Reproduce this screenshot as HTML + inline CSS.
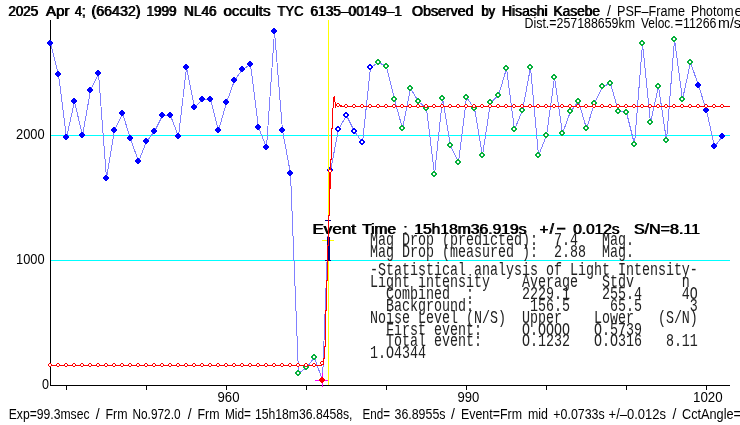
<!DOCTYPE html>
<html><head><meta charset="utf-8"><title>Light curve</title>
<style>
html,body{margin:0;padding:0;background:#fff;overflow:hidden}
svg{display:block;will-change:transform}
text{font-family:"Liberation Sans",sans-serif;fill:#000}
.b{font-weight:bold}
.m{font-family:"Liberation Mono",monospace;white-space:pre;fill:#222}
</style></head><body>
<svg width="740" height="425" viewBox="0 0 740 425">
<rect x="0" y="0" width="740" height="425" fill="#ffffff"/>
<g shape-rendering="crispEdges">
<rect x="51" y="135" width="679" height="1" fill="#00ffff"/>
<rect x="51" y="260" width="679" height="1" fill="#00ffff"/>
<rect x="50" y="20" width="1" height="366" fill="#000"/>
<rect x="50" y="385" width="680" height="1" fill="#000"/>
<rect x="66" y="386" width="1" height="4" fill="#000"/>
<rect x="146" y="386" width="1" height="4" fill="#000"/>
<rect x="226" y="386" width="1" height="4" fill="#000"/>
<rect x="306" y="386" width="1" height="4" fill="#000"/>
<rect x="386" y="386" width="1" height="4" fill="#000"/>
<rect x="466" y="386" width="1" height="4" fill="#000"/>
<rect x="546" y="386" width="1" height="4" fill="#000"/>
<rect x="626" y="386" width="1" height="4" fill="#000"/>
<rect x="706" y="386" width="1" height="4" fill="#000"/>
</g>
<text x="8.00" y="16" font-size="14" textLength="29.7" lengthAdjust="spacingAndGlyphs">2025</text>
<text x="8.90" y="16" font-size="14" textLength="29.7" lengthAdjust="spacingAndGlyphs">2025</text>
<text x="45.60" y="16" font-size="14" textLength="23.5" lengthAdjust="spacingAndGlyphs">Apr</text>
<text x="46.50" y="16" font-size="14" textLength="23.5" lengthAdjust="spacingAndGlyphs">Apr</text>
<text x="74.40" y="16" font-size="14" textLength="10.7" lengthAdjust="spacingAndGlyphs">4;</text>
<text x="75.30" y="16" font-size="14" textLength="10.7" lengthAdjust="spacingAndGlyphs">4;</text>
<text x="91.00" y="16" font-size="14" textLength="49.1" lengthAdjust="spacingAndGlyphs">(66432)</text>
<text x="91.90" y="16" font-size="14" textLength="49.1" lengthAdjust="spacingAndGlyphs">(66432)</text>
<text x="146.00" y="16" font-size="14" textLength="30.1" lengthAdjust="spacingAndGlyphs">1999</text>
<text x="146.90" y="16" font-size="14" textLength="30.1" lengthAdjust="spacingAndGlyphs">1999</text>
<text x="183.60" y="16" font-size="14" textLength="32.5" lengthAdjust="spacingAndGlyphs">NL46</text>
<text x="184.50" y="16" font-size="14" textLength="32.5" lengthAdjust="spacingAndGlyphs">NL46</text>
<text x="223.00" y="16" font-size="14" textLength="47.1" lengthAdjust="spacingAndGlyphs">occults</text>
<text x="223.90" y="16" font-size="14" textLength="47.1" lengthAdjust="spacingAndGlyphs">occults</text>
<text x="277.00" y="16" font-size="14" textLength="26.1" lengthAdjust="spacingAndGlyphs">TYC</text>
<text x="277.90" y="16" font-size="14" textLength="26.1" lengthAdjust="spacingAndGlyphs">TYC</text>
<text x="310.00" y="16" font-size="14" textLength="91.5" lengthAdjust="spacingAndGlyphs">6135–00149–1</text>
<text x="310.90" y="16" font-size="14" textLength="91.5" lengthAdjust="spacingAndGlyphs">6135–00149–1</text>
<text x="411.60" y="16" font-size="14" textLength="61.5" lengthAdjust="spacingAndGlyphs">Observed</text>
<text x="412.50" y="16" font-size="14" textLength="61.5" lengthAdjust="spacingAndGlyphs">Observed</text>
<text x="481.00" y="16" font-size="14" textLength="13.7" lengthAdjust="spacingAndGlyphs">by</text>
<text x="481.90" y="16" font-size="14" textLength="13.7" lengthAdjust="spacingAndGlyphs">by</text>
<text x="501.60" y="16" font-size="14" textLength="45.5" lengthAdjust="spacingAndGlyphs">Hisashi</text>
<text x="502.50" y="16" font-size="14" textLength="45.5" lengthAdjust="spacingAndGlyphs">Hisashi</text>
<text x="553.00" y="16" font-size="14" textLength="46.6" lengthAdjust="spacingAndGlyphs">Kasebe</text>
<text x="553.90" y="16" font-size="14" textLength="46.6" lengthAdjust="spacingAndGlyphs">Kasebe</text>
<text x="609.00" y="16" font-size="14" text-anchor="middle">/</text>
<text x="617" y="16" font-size="14" textLength="68.0" lengthAdjust="spacingAndGlyphs">PSF–Frame</text>
<text x="691" y="16" font-size="14" textLength="42.6" lengthAdjust="spacingAndGlyphs">Photom</text>
<text x="734.6" y="16" font-size="14">etry</text>
<text x="524.5" y="27.5" font-size="14" textLength="110.5" lengthAdjust="spacingAndGlyphs">Dist.=257188659km</text>
<text x="641" y="27.5" font-size="14" textLength="32.6" lengthAdjust="spacingAndGlyphs">Veloc.</text>
<text x="678.80" y="27.5" font-size="14" text-anchor="middle">=</text>
<text x="683" y="27.5" font-size="14" textLength="33.4" lengthAdjust="spacingAndGlyphs">11266</text>
<text x="718" y="27.5" font-size="14" textLength="23.0" lengthAdjust="spacingAndGlyphs">m/s</text>
<text x="16" y="139" font-size="14" textLength="28.6" lengthAdjust="spacingAndGlyphs">2000</text>
<text x="16" y="264" font-size="14" textLength="28.6" lengthAdjust="spacingAndGlyphs">1000</text>
<text x="42" y="389" font-size="14" textLength="7.0" lengthAdjust="spacingAndGlyphs">0</text>
<text x="217.5" y="401.5" font-size="14" textLength="22.0" lengthAdjust="spacingAndGlyphs">960</text>
<text x="457.5" y="401.5" font-size="14" textLength="21.8" lengthAdjust="spacingAndGlyphs">990</text>
<text x="693" y="401.5" font-size="14" textLength="29.7" lengthAdjust="spacingAndGlyphs">1020</text>
<text x="8.75" y="418.5" font-size="14" textLength="80.8" lengthAdjust="spacingAndGlyphs">Exp=99.3msec</text>
<text x="97.75" y="418.5" font-size="14" text-anchor="middle">/</text>
<text x="105.5" y="418.5" font-size="14" textLength="22.0" lengthAdjust="spacingAndGlyphs">Frm</text>
<text x="132.5" y="418.5" font-size="14" textLength="48.0" lengthAdjust="spacingAndGlyphs">No.972.0</text>
<text x="189.75" y="418.5" font-size="14" text-anchor="middle">/</text>
<text x="197.5" y="418.5" font-size="14" textLength="22.0" lengthAdjust="spacingAndGlyphs">Frm</text>
<text x="225" y="418.5" font-size="14" textLength="26.0" lengthAdjust="spacingAndGlyphs">Mid=</text>
<text x="255" y="418.5" font-size="14" textLength="97.5" lengthAdjust="spacingAndGlyphs">15h18m36.8458s,</text>
<text x="362.5" y="418.5" font-size="14" textLength="27.5" lengthAdjust="spacingAndGlyphs">End=</text>
<text x="394.5" y="418.5" font-size="14" textLength="51.0" lengthAdjust="spacingAndGlyphs">36.8955s</text>
<text x="453.00" y="418.5" font-size="14" text-anchor="middle">/</text>
<text x="461" y="418.5" font-size="14" textLength="61.0" lengthAdjust="spacingAndGlyphs">Event=Frm</text>
<text x="528" y="418.5" font-size="14" textLength="20.0" lengthAdjust="spacingAndGlyphs">mid</text>
<text x="553.3" y="418.5" font-size="14" textLength="51.4" lengthAdjust="spacingAndGlyphs">+0.0733s</text>
<text x="608.6" y="418.5" font-size="14" textLength="57.4" lengthAdjust="spacingAndGlyphs">+/–0.012s</text>
<text x="674.55" y="418.5" font-size="14" text-anchor="middle">/</text>
<text x="682" y="418.5" font-size="14" textLength="59.0" lengthAdjust="spacingAndGlyphs">CctAngle=</text>
<text x="312.00" y="233.5" font-size="15" textLength="43.6" lengthAdjust="spacingAndGlyphs">Event</text>
<text x="312.90" y="233.5" font-size="15" textLength="43.6" lengthAdjust="spacingAndGlyphs">Event</text>
<text x="361.80" y="233.5" font-size="15" textLength="33.8" lengthAdjust="spacingAndGlyphs">Time</text>
<text x="362.70" y="233.5" font-size="15" textLength="33.8" lengthAdjust="spacingAndGlyphs">Time</text>
<text x="405.05" y="233.5" font-size="15" text-anchor="middle">:</text>
<text x="405.95" y="233.5" font-size="15" text-anchor="middle">:</text>
<text x="413.80" y="233.5" font-size="15" textLength="112.3" lengthAdjust="spacingAndGlyphs">15h18m36.919s</text>
<text x="414.70" y="233.5" font-size="15" textLength="112.3" lengthAdjust="spacingAndGlyphs">15h18m36.919s</text>
<text x="543.60" y="233.5" font-size="15" text-anchor="middle">+</text>
<text x="544.50" y="233.5" font-size="15" text-anchor="middle">+</text>
<text x="551.35" y="233.5" font-size="15" text-anchor="middle">/</text>
<text x="552.25" y="233.5" font-size="15" text-anchor="middle">/</text>
<text x="572.80" y="233.5" font-size="15" textLength="46.3" lengthAdjust="spacingAndGlyphs">0.012s</text>
<text x="573.70" y="233.5" font-size="15" textLength="46.3" lengthAdjust="spacingAndGlyphs">0.012s</text>
<text x="633.50" y="233.5" font-size="15" textLength="66.1" lengthAdjust="spacingAndGlyphs">S/N=8.11</text>
<text x="634.40" y="233.5" font-size="15" textLength="66.1" lengthAdjust="spacingAndGlyphs">S/N=8.11</text>
<rect x="557" y="227.7" width="8.4" height="1.9" fill="#000"/>
<text class="m" xml:space="preserve" transform="translate(370,245.3) scale(1,1.36)" x="0" y="0" font-size="13.333">Mag Drop (predicted):  7.4   Mag.</text>
<text class="m" xml:space="preserve" transform="translate(370,257.3) scale(1,1.36)" x="0" y="0" font-size="13.333">Mag Drop (measured ):  2.88  Mag.</text>
<text class="m" xml:space="preserve" transform="translate(370,275.0) scale(1,1.36)" x="0" y="0" font-size="13.333">-Statistical analysis of Light Intensity-</text>
<text class="m" xml:space="preserve" transform="translate(370,286.9) scale(1,1.36)" x="0" y="0" font-size="13.333">Light intensity    Average   Stdv      n</text>
<text class="m" xml:space="preserve" transform="translate(370,298.8) scale(1,1.36)" x="0" y="0" font-size="13.333">  Combined  :      2229.1    255.4     4O</text>
<text class="m" xml:space="preserve" transform="translate(370,310.7) scale(1,1.36)" x="0" y="0" font-size="13.333">  Background:       156.5     65.5      3</text>
<text class="m" xml:space="preserve" transform="translate(370,322.6) scale(1,1.36)" x="0" y="0" font-size="13.333">Noise Level (N/S)  Upper    Lower   (S/N)</text>
<text class="m" xml:space="preserve" transform="translate(370,334.5) scale(1,1.36)" x="0" y="0" font-size="13.333">  First event:     O.OOOO   O.5739</text>
<text class="m" xml:space="preserve" transform="translate(370,346.4) scale(1,1.36)" x="0" y="0" font-size="13.333">  Total event:     O.1232   O.O316   8.11</text>
<text class="m" xml:space="preserve" transform="translate(370,358.3) scale(1,1.36)" x="0" y="0" font-size="13.333">1.O4344</text>
<polyline points="50.5,43.5 58.5,74.5 66.5,137.5 74.5,101.5 82.5,135.5 90.5,90.5 98.5,73.5 106.5,178.5 114.5,130.5 122.5,113.5 130.5,138.5 138.5,161.5 146.5,141.5 154.5,131.5 162.5,115.5 170.5,115.5 178.5,136.5 186.5,67.5 194.5,107.5 202.5,99.5 210.5,99.5 218.5,130.5 226.5,102.5 234.5,80.5 242.5,69.5 250.5,64.5 258.5,127.5 266.5,147.5 274.5,31.5 282.5,130.5 290.5,173.5 298.5,373.5 306.5,367.5 314.5,357.5 322.5,380.5 330.5,170.5 338.5,129.5 346.5,115.5 354.5,131.5 362.5,142.5 370.5,67.5 378.5,62.5 386.5,66.5 394.5,99.5 402.5,128.5 410.5,88.5 418.5,101.5 426.5,108.5 434.5,174.5 442.5,98.5 450.5,145.5 458.5,162.5 466.5,97.5 474.5,108.5 482.5,155.5 490.5,102.5 498.5,95.5 506.5,68.5 514.5,129.5 522.5,110.5 530.5,67.5 538.5,155.5 546.5,135.5 554.5,77.5 562.5,133.5 570.5,111.5 578.5,101.5 586.5,128.5 594.5,103.5 602.5,86.5 610.5,83.5 618.5,111.5 626.5,112.5 634.5,144.5 642.5,43.5 650.5,122.5 658.5,86.5 666.5,140.5 674.5,39.5 682.5,99.5 690.5,62.5 698.5,85.5 706.5,110.5 714.5,146.5 722.5,136.5" fill="none" stroke="#8080ff" stroke-width="1" shape-rendering="crispEdges"/>
<g shape-rendering="crispEdges">
<path d="M49,40h2v1h1v1h1v2h-1v1h-1v1h-2v-1h-1v-1h-1v-2h1v-1h1z" fill="#0000ff"/>
<path d="M57,71h2v1h1v1h1v2h-1v1h-1v1h-2v-1h-1v-1h-1v-2h1v-1h1z" fill="#0000ff"/>
<path d="M65,134h2v1h1v1h1v2h-1v1h-1v1h-2v-1h-1v-1h-1v-2h1v-1h1z" fill="#0000ff"/>
<path d="M73,98h2v1h1v1h1v2h-1v1h-1v1h-2v-1h-1v-1h-1v-2h1v-1h1z" fill="#0000ff"/>
<path d="M81,132h2v1h1v1h1v2h-1v1h-1v1h-2v-1h-1v-1h-1v-2h1v-1h1z" fill="#0000ff"/>
<path d="M89,87h2v1h1v1h1v2h-1v1h-1v1h-2v-1h-1v-1h-1v-2h1v-1h1z" fill="#0000ff"/>
<path d="M97,70h2v1h1v1h1v2h-1v1h-1v1h-2v-1h-1v-1h-1v-2h1v-1h1z" fill="#0000ff"/>
<path d="M105,175h2v1h1v1h1v2h-1v1h-1v1h-2v-1h-1v-1h-1v-2h1v-1h1z" fill="#0000ff"/>
<path d="M113,127h2v1h1v1h1v2h-1v1h-1v1h-2v-1h-1v-1h-1v-2h1v-1h1z" fill="#0000ff"/>
<path d="M121,110h2v1h1v1h1v2h-1v1h-1v1h-2v-1h-1v-1h-1v-2h1v-1h1z" fill="#0000ff"/>
<path d="M129,135h2v1h1v1h1v2h-1v1h-1v1h-2v-1h-1v-1h-1v-2h1v-1h1z" fill="#0000ff"/>
<path d="M137,158h2v1h1v1h1v2h-1v1h-1v1h-2v-1h-1v-1h-1v-2h1v-1h1z" fill="#0000ff"/>
<path d="M145,138h2v1h1v1h1v2h-1v1h-1v1h-2v-1h-1v-1h-1v-2h1v-1h1z" fill="#0000ff"/>
<path d="M153,128h2v1h1v1h1v2h-1v1h-1v1h-2v-1h-1v-1h-1v-2h1v-1h1z" fill="#0000ff"/>
<path d="M161,112h2v1h1v1h1v2h-1v1h-1v1h-2v-1h-1v-1h-1v-2h1v-1h1z" fill="#0000ff"/>
<path d="M169,112h2v1h1v1h1v2h-1v1h-1v1h-2v-1h-1v-1h-1v-2h1v-1h1z" fill="#0000ff"/>
<path d="M177,133h2v1h1v1h1v2h-1v1h-1v1h-2v-1h-1v-1h-1v-2h1v-1h1z" fill="#0000ff"/>
<path d="M185,64h2v1h1v1h1v2h-1v1h-1v1h-2v-1h-1v-1h-1v-2h1v-1h1z" fill="#0000ff"/>
<path d="M193,104h2v1h1v1h1v2h-1v1h-1v1h-2v-1h-1v-1h-1v-2h1v-1h1z" fill="#0000ff"/>
<path d="M201,96h2v1h1v1h1v2h-1v1h-1v1h-2v-1h-1v-1h-1v-2h1v-1h1z" fill="#0000ff"/>
<path d="M209,96h2v1h1v1h1v2h-1v1h-1v1h-2v-1h-1v-1h-1v-2h1v-1h1z" fill="#0000ff"/>
<path d="M217,127h2v1h1v1h1v2h-1v1h-1v1h-2v-1h-1v-1h-1v-2h1v-1h1z" fill="#0000ff"/>
<path d="M225,99h2v1h1v1h1v2h-1v1h-1v1h-2v-1h-1v-1h-1v-2h1v-1h1z" fill="#0000ff"/>
<path d="M233,77h2v1h1v1h1v2h-1v1h-1v1h-2v-1h-1v-1h-1v-2h1v-1h1z" fill="#0000ff"/>
<path d="M241,66h2v1h1v1h1v2h-1v1h-1v1h-2v-1h-1v-1h-1v-2h1v-1h1z" fill="#0000ff"/>
<path d="M249,61h2v1h1v1h1v2h-1v1h-1v1h-2v-1h-1v-1h-1v-2h1v-1h1z" fill="#0000ff"/>
<path d="M257,124h2v1h1v1h1v2h-1v1h-1v1h-2v-1h-1v-1h-1v-2h1v-1h1z" fill="#0000ff"/>
<path d="M265,144h2v1h1v1h1v2h-1v1h-1v1h-2v-1h-1v-1h-1v-2h1v-1h1z" fill="#0000ff"/>
<path d="M273,28h2v1h1v1h1v2h-1v1h-1v1h-2v-1h-1v-1h-1v-2h1v-1h1z" fill="#0000ff"/>
<path d="M281,127h2v1h1v1h1v2h-1v1h-1v1h-2v-1h-1v-1h-1v-2h1v-1h1z" fill="#0000ff"/>
<path d="M289,170h2v1h1v1h1v2h-1v1h-1v1h-2v-1h-1v-1h-1v-2h1v-1h1z" fill="#0000ff"/>
<path d="M297,370h2v1h1v1h1v2h-1v1h-1v1h-2v-1h-1v-1h-1v-2h1v-1h1z" fill="#08b03c"/><rect x="297" y="372" width="2" height="2" fill="#fff"/>
<path d="M305,364h2v1h1v1h1v2h-1v1h-1v1h-2v-1h-1v-1h-1v-2h1v-1h1z" fill="#08b03c"/><rect x="305" y="366" width="2" height="2" fill="#fff"/>
<path d="M313,354h2v1h1v1h1v2h-1v1h-1v1h-2v-1h-1v-1h-1v-2h1v-1h1z" fill="#08b03c"/><rect x="313" y="356" width="2" height="2" fill="#fff"/>
<rect x="315" y="380" width="13" height="1" fill="#ff00ff"/>
<rect x="322" y="373" width="1" height="14" fill="#ff00ff"/>
<path d="M321,377h2v1h1v1h1v2h-1v1h-1v1h-2v-1h-1v-1h-1v-2h1v-1h1z" fill="#ff0000"/>
<path d="M329,167h2v1h1v1h1v2h-1v1h-1v1h-2v-1h-1v-1h-1v-2h1v-1h1z" fill="#0000ff"/><rect x="329" y="169" width="2" height="2" fill="#fff"/>
<path d="M337,126h2v1h1v1h1v2h-1v1h-1v1h-2v-1h-1v-1h-1v-2h1v-1h1z" fill="#0000ff"/><rect x="337" y="128" width="2" height="2" fill="#fff"/>
<path d="M345,112h2v1h1v1h1v2h-1v1h-1v1h-2v-1h-1v-1h-1v-2h1v-1h1z" fill="#0000ff"/><rect x="345" y="114" width="2" height="2" fill="#fff"/>
<path d="M353,128h2v1h1v1h1v2h-1v1h-1v1h-2v-1h-1v-1h-1v-2h1v-1h1z" fill="#0000ff"/><rect x="353" y="130" width="2" height="2" fill="#fff"/>
<path d="M361,139h2v1h1v1h1v2h-1v1h-1v1h-2v-1h-1v-1h-1v-2h1v-1h1z" fill="#0000ff"/><rect x="361" y="141" width="2" height="2" fill="#fff"/>
<path d="M369,64h2v1h1v1h1v2h-1v1h-1v1h-2v-1h-1v-1h-1v-2h1v-1h1z" fill="#0000ff"/><rect x="369" y="66" width="2" height="2" fill="#fff"/>
<path d="M377,59h2v1h1v1h1v2h-1v1h-1v1h-2v-1h-1v-1h-1v-2h1v-1h1z" fill="#08b03c"/><rect x="377" y="61" width="2" height="2" fill="#fff"/>
<path d="M385,63h2v1h1v1h1v2h-1v1h-1v1h-2v-1h-1v-1h-1v-2h1v-1h1z" fill="#08b03c"/><rect x="385" y="65" width="2" height="2" fill="#fff"/>
<path d="M393,96h2v1h1v1h1v2h-1v1h-1v1h-2v-1h-1v-1h-1v-2h1v-1h1z" fill="#08b03c"/><rect x="393" y="98" width="2" height="2" fill="#fff"/>
<path d="M401,125h2v1h1v1h1v2h-1v1h-1v1h-2v-1h-1v-1h-1v-2h1v-1h1z" fill="#08b03c"/><rect x="401" y="127" width="2" height="2" fill="#fff"/>
<path d="M409,85h2v1h1v1h1v2h-1v1h-1v1h-2v-1h-1v-1h-1v-2h1v-1h1z" fill="#08b03c"/><rect x="409" y="87" width="2" height="2" fill="#fff"/>
<path d="M417,98h2v1h1v1h1v2h-1v1h-1v1h-2v-1h-1v-1h-1v-2h1v-1h1z" fill="#08b03c"/><rect x="417" y="100" width="2" height="2" fill="#fff"/>
<path d="M425,105h2v1h1v1h1v2h-1v1h-1v1h-2v-1h-1v-1h-1v-2h1v-1h1z" fill="#08b03c"/><rect x="425" y="107" width="2" height="2" fill="#fff"/>
<path d="M433,171h2v1h1v1h1v2h-1v1h-1v1h-2v-1h-1v-1h-1v-2h1v-1h1z" fill="#08b03c"/><rect x="433" y="173" width="2" height="2" fill="#fff"/>
<path d="M441,95h2v1h1v1h1v2h-1v1h-1v1h-2v-1h-1v-1h-1v-2h1v-1h1z" fill="#08b03c"/><rect x="441" y="97" width="2" height="2" fill="#fff"/>
<path d="M449,142h2v1h1v1h1v2h-1v1h-1v1h-2v-1h-1v-1h-1v-2h1v-1h1z" fill="#08b03c"/><rect x="449" y="144" width="2" height="2" fill="#fff"/>
<path d="M457,159h2v1h1v1h1v2h-1v1h-1v1h-2v-1h-1v-1h-1v-2h1v-1h1z" fill="#08b03c"/><rect x="457" y="161" width="2" height="2" fill="#fff"/>
<path d="M465,94h2v1h1v1h1v2h-1v1h-1v1h-2v-1h-1v-1h-1v-2h1v-1h1z" fill="#08b03c"/><rect x="465" y="96" width="2" height="2" fill="#fff"/>
<path d="M473,105h2v1h1v1h1v2h-1v1h-1v1h-2v-1h-1v-1h-1v-2h1v-1h1z" fill="#08b03c"/><rect x="473" y="107" width="2" height="2" fill="#fff"/>
<path d="M481,152h2v1h1v1h1v2h-1v1h-1v1h-2v-1h-1v-1h-1v-2h1v-1h1z" fill="#08b03c"/><rect x="481" y="154" width="2" height="2" fill="#fff"/>
<path d="M489,99h2v1h1v1h1v2h-1v1h-1v1h-2v-1h-1v-1h-1v-2h1v-1h1z" fill="#08b03c"/><rect x="489" y="101" width="2" height="2" fill="#fff"/>
<path d="M497,92h2v1h1v1h1v2h-1v1h-1v1h-2v-1h-1v-1h-1v-2h1v-1h1z" fill="#08b03c"/><rect x="497" y="94" width="2" height="2" fill="#fff"/>
<path d="M505,65h2v1h1v1h1v2h-1v1h-1v1h-2v-1h-1v-1h-1v-2h1v-1h1z" fill="#08b03c"/><rect x="505" y="67" width="2" height="2" fill="#fff"/>
<path d="M513,126h2v1h1v1h1v2h-1v1h-1v1h-2v-1h-1v-1h-1v-2h1v-1h1z" fill="#08b03c"/><rect x="513" y="128" width="2" height="2" fill="#fff"/>
<path d="M521,107h2v1h1v1h1v2h-1v1h-1v1h-2v-1h-1v-1h-1v-2h1v-1h1z" fill="#08b03c"/><rect x="521" y="109" width="2" height="2" fill="#fff"/>
<path d="M529,64h2v1h1v1h1v2h-1v1h-1v1h-2v-1h-1v-1h-1v-2h1v-1h1z" fill="#08b03c"/><rect x="529" y="66" width="2" height="2" fill="#fff"/>
<path d="M537,152h2v1h1v1h1v2h-1v1h-1v1h-2v-1h-1v-1h-1v-2h1v-1h1z" fill="#08b03c"/><rect x="537" y="154" width="2" height="2" fill="#fff"/>
<path d="M545,132h2v1h1v1h1v2h-1v1h-1v1h-2v-1h-1v-1h-1v-2h1v-1h1z" fill="#08b03c"/><rect x="545" y="134" width="2" height="2" fill="#fff"/>
<path d="M553,74h2v1h1v1h1v2h-1v1h-1v1h-2v-1h-1v-1h-1v-2h1v-1h1z" fill="#08b03c"/><rect x="553" y="76" width="2" height="2" fill="#fff"/>
<path d="M561,130h2v1h1v1h1v2h-1v1h-1v1h-2v-1h-1v-1h-1v-2h1v-1h1z" fill="#08b03c"/><rect x="561" y="132" width="2" height="2" fill="#fff"/>
<path d="M569,108h2v1h1v1h1v2h-1v1h-1v1h-2v-1h-1v-1h-1v-2h1v-1h1z" fill="#08b03c"/><rect x="569" y="110" width="2" height="2" fill="#fff"/>
<path d="M577,98h2v1h1v1h1v2h-1v1h-1v1h-2v-1h-1v-1h-1v-2h1v-1h1z" fill="#08b03c"/><rect x="577" y="100" width="2" height="2" fill="#fff"/>
<path d="M585,125h2v1h1v1h1v2h-1v1h-1v1h-2v-1h-1v-1h-1v-2h1v-1h1z" fill="#08b03c"/><rect x="585" y="127" width="2" height="2" fill="#fff"/>
<path d="M593,100h2v1h1v1h1v2h-1v1h-1v1h-2v-1h-1v-1h-1v-2h1v-1h1z" fill="#08b03c"/><rect x="593" y="102" width="2" height="2" fill="#fff"/>
<path d="M601,83h2v1h1v1h1v2h-1v1h-1v1h-2v-1h-1v-1h-1v-2h1v-1h1z" fill="#08b03c"/><rect x="601" y="85" width="2" height="2" fill="#fff"/>
<path d="M609,80h2v1h1v1h1v2h-1v1h-1v1h-2v-1h-1v-1h-1v-2h1v-1h1z" fill="#08b03c"/><rect x="609" y="82" width="2" height="2" fill="#fff"/>
<path d="M617,108h2v1h1v1h1v2h-1v1h-1v1h-2v-1h-1v-1h-1v-2h1v-1h1z" fill="#08b03c"/><rect x="617" y="110" width="2" height="2" fill="#fff"/>
<path d="M625,109h2v1h1v1h1v2h-1v1h-1v1h-2v-1h-1v-1h-1v-2h1v-1h1z" fill="#08b03c"/><rect x="625" y="111" width="2" height="2" fill="#fff"/>
<path d="M633,141h2v1h1v1h1v2h-1v1h-1v1h-2v-1h-1v-1h-1v-2h1v-1h1z" fill="#08b03c"/><rect x="633" y="143" width="2" height="2" fill="#fff"/>
<path d="M641,40h2v1h1v1h1v2h-1v1h-1v1h-2v-1h-1v-1h-1v-2h1v-1h1z" fill="#08b03c"/><rect x="641" y="42" width="2" height="2" fill="#fff"/>
<path d="M649,119h2v1h1v1h1v2h-1v1h-1v1h-2v-1h-1v-1h-1v-2h1v-1h1z" fill="#08b03c"/><rect x="649" y="121" width="2" height="2" fill="#fff"/>
<path d="M657,83h2v1h1v1h1v2h-1v1h-1v1h-2v-1h-1v-1h-1v-2h1v-1h1z" fill="#08b03c"/><rect x="657" y="85" width="2" height="2" fill="#fff"/>
<path d="M665,137h2v1h1v1h1v2h-1v1h-1v1h-2v-1h-1v-1h-1v-2h1v-1h1z" fill="#08b03c"/><rect x="665" y="139" width="2" height="2" fill="#fff"/>
<path d="M673,36h2v1h1v1h1v2h-1v1h-1v1h-2v-1h-1v-1h-1v-2h1v-1h1z" fill="#08b03c"/><rect x="673" y="38" width="2" height="2" fill="#fff"/>
<path d="M681,96h2v1h1v1h1v2h-1v1h-1v1h-2v-1h-1v-1h-1v-2h1v-1h1z" fill="#08b03c"/><rect x="681" y="98" width="2" height="2" fill="#fff"/>
<path d="M689,59h2v1h1v1h1v2h-1v1h-1v1h-2v-1h-1v-1h-1v-2h1v-1h1z" fill="#08b03c"/><rect x="689" y="61" width="2" height="2" fill="#fff"/>
<path d="M697,82h2v1h1v1h1v2h-1v1h-1v1h-2v-1h-1v-1h-1v-2h1v-1h1z" fill="#0000ff"/>
<path d="M705,107h2v1h1v1h1v2h-1v1h-1v1h-2v-1h-1v-1h-1v-2h1v-1h1z" fill="#0000ff"/>
<path d="M713,143h2v1h1v1h1v2h-1v1h-1v1h-2v-1h-1v-1h-1v-2h1v-1h1z" fill="#0000ff"/>
<path d="M721,133h2v1h1v1h1v2h-1v1h-1v1h-2v-1h-1v-1h-1v-2h1v-1h1z" fill="#0000ff"/>
<rect x="328" y="20" width="1" height="365" fill="#ffff00"/>
<rect x="328" y="220" width="1" height="17" fill="#000080"/>
<rect x="327" y="237" width="3" height="24" fill="#000080"/>
<rect x="325" y="220" width="6" height="1" fill="#000080"/>
<rect x="325" y="260" width="6" height="1" fill="#000080"/>
<rect x="322" y="240" width="12" height="1" fill="#ffff00"/>
<rect x="327" y="237" width="3" height="7" fill="#000080"/>
</g>
<g shape-rendering="crispEdges">
<rect x="50" y="365" width="272" height="1" fill="#ff0000"/>
<rect x="340" y="106" width="390" height="1" fill="#ff0000"/>
</g>
<g shape-rendering="crispEdges">
<rect x="323" y="358" width="1" height="5" fill="#ff0000"/>
<rect x="324" y="346" width="1" height="13" fill="#ff0000"/>
<rect x="325" y="310" width="1" height="37" fill="#ff0000"/>
<rect x="326" y="280" width="1" height="31" fill="#ff0000"/>
<rect x="327" y="245" width="1" height="36" fill="#ff0000"/>
<rect x="328" y="215" width="1" height="31" fill="#ff0000"/>
<rect x="329" y="173" width="1" height="43" fill="#ff0000"/>
<rect x="330" y="159" width="1" height="30" fill="#ff0000"/>
<rect x="331" y="128" width="1" height="32" fill="#ff0000"/>
<rect x="332" y="108" width="1" height="21" fill="#ff0000"/>
<rect x="322" y="364" width="2" height="1" fill="#ff0000"/>
</g>
<g shape-rendering="crispEdges">
<rect x="333" y="97" width="1" height="11" fill="#ff0000"/>
<rect x="334" y="96" width="1" height="6" fill="#ff0000"/>
<rect x="335" y="102" width="1" height="6" fill="#ff0000"/>
<rect x="339" y="105" width="3" height="1" fill="#ff0000"/>
<rect x="341" y="106" width="4" height="1" fill="#ff0000"/>
</g>
<g shape-rendering="crispEdges">
<rect x="49" y="364" width="2" height="2" fill="#fff"/><path d="M49,363h2v1h-2zM48,364h1v2h-1zM51,364h1v2h-1zM49,366h2v1h-2z" fill="#ff0000"/>
<rect x="57" y="364" width="2" height="2" fill="#fff"/><path d="M57,363h2v1h-2zM56,364h1v2h-1zM59,364h1v2h-1zM57,366h2v1h-2z" fill="#ff0000"/>
<rect x="65" y="364" width="2" height="2" fill="#fff"/><path d="M65,363h2v1h-2zM64,364h1v2h-1zM67,364h1v2h-1zM65,366h2v1h-2z" fill="#ff0000"/>
<rect x="73" y="364" width="2" height="2" fill="#fff"/><path d="M73,363h2v1h-2zM72,364h1v2h-1zM75,364h1v2h-1zM73,366h2v1h-2z" fill="#ff0000"/>
<rect x="81" y="364" width="2" height="2" fill="#fff"/><path d="M81,363h2v1h-2zM80,364h1v2h-1zM83,364h1v2h-1zM81,366h2v1h-2z" fill="#ff0000"/>
<rect x="89" y="364" width="2" height="2" fill="#fff"/><path d="M89,363h2v1h-2zM88,364h1v2h-1zM91,364h1v2h-1zM89,366h2v1h-2z" fill="#ff0000"/>
<rect x="97" y="364" width="2" height="2" fill="#fff"/><path d="M97,363h2v1h-2zM96,364h1v2h-1zM99,364h1v2h-1zM97,366h2v1h-2z" fill="#ff0000"/>
<rect x="105" y="364" width="2" height="2" fill="#fff"/><path d="M105,363h2v1h-2zM104,364h1v2h-1zM107,364h1v2h-1zM105,366h2v1h-2z" fill="#ff0000"/>
<rect x="113" y="364" width="2" height="2" fill="#fff"/><path d="M113,363h2v1h-2zM112,364h1v2h-1zM115,364h1v2h-1zM113,366h2v1h-2z" fill="#ff0000"/>
<rect x="121" y="364" width="2" height="2" fill="#fff"/><path d="M121,363h2v1h-2zM120,364h1v2h-1zM123,364h1v2h-1zM121,366h2v1h-2z" fill="#ff0000"/>
<rect x="129" y="364" width="2" height="2" fill="#fff"/><path d="M129,363h2v1h-2zM128,364h1v2h-1zM131,364h1v2h-1zM129,366h2v1h-2z" fill="#ff0000"/>
<rect x="137" y="364" width="2" height="2" fill="#fff"/><path d="M137,363h2v1h-2zM136,364h1v2h-1zM139,364h1v2h-1zM137,366h2v1h-2z" fill="#ff0000"/>
<rect x="145" y="364" width="2" height="2" fill="#fff"/><path d="M145,363h2v1h-2zM144,364h1v2h-1zM147,364h1v2h-1zM145,366h2v1h-2z" fill="#ff0000"/>
<rect x="153" y="364" width="2" height="2" fill="#fff"/><path d="M153,363h2v1h-2zM152,364h1v2h-1zM155,364h1v2h-1zM153,366h2v1h-2z" fill="#ff0000"/>
<rect x="161" y="364" width="2" height="2" fill="#fff"/><path d="M161,363h2v1h-2zM160,364h1v2h-1zM163,364h1v2h-1zM161,366h2v1h-2z" fill="#ff0000"/>
<rect x="169" y="364" width="2" height="2" fill="#fff"/><path d="M169,363h2v1h-2zM168,364h1v2h-1zM171,364h1v2h-1zM169,366h2v1h-2z" fill="#ff0000"/>
<rect x="177" y="364" width="2" height="2" fill="#fff"/><path d="M177,363h2v1h-2zM176,364h1v2h-1zM179,364h1v2h-1zM177,366h2v1h-2z" fill="#ff0000"/>
<rect x="185" y="364" width="2" height="2" fill="#fff"/><path d="M185,363h2v1h-2zM184,364h1v2h-1zM187,364h1v2h-1zM185,366h2v1h-2z" fill="#ff0000"/>
<rect x="193" y="364" width="2" height="2" fill="#fff"/><path d="M193,363h2v1h-2zM192,364h1v2h-1zM195,364h1v2h-1zM193,366h2v1h-2z" fill="#ff0000"/>
<rect x="201" y="364" width="2" height="2" fill="#fff"/><path d="M201,363h2v1h-2zM200,364h1v2h-1zM203,364h1v2h-1zM201,366h2v1h-2z" fill="#ff0000"/>
<rect x="209" y="364" width="2" height="2" fill="#fff"/><path d="M209,363h2v1h-2zM208,364h1v2h-1zM211,364h1v2h-1zM209,366h2v1h-2z" fill="#ff0000"/>
<rect x="217" y="364" width="2" height="2" fill="#fff"/><path d="M217,363h2v1h-2zM216,364h1v2h-1zM219,364h1v2h-1zM217,366h2v1h-2z" fill="#ff0000"/>
<rect x="225" y="364" width="2" height="2" fill="#fff"/><path d="M225,363h2v1h-2zM224,364h1v2h-1zM227,364h1v2h-1zM225,366h2v1h-2z" fill="#ff0000"/>
<rect x="233" y="364" width="2" height="2" fill="#fff"/><path d="M233,363h2v1h-2zM232,364h1v2h-1zM235,364h1v2h-1zM233,366h2v1h-2z" fill="#ff0000"/>
<rect x="241" y="364" width="2" height="2" fill="#fff"/><path d="M241,363h2v1h-2zM240,364h1v2h-1zM243,364h1v2h-1zM241,366h2v1h-2z" fill="#ff0000"/>
<rect x="249" y="364" width="2" height="2" fill="#fff"/><path d="M249,363h2v1h-2zM248,364h1v2h-1zM251,364h1v2h-1zM249,366h2v1h-2z" fill="#ff0000"/>
<rect x="257" y="364" width="2" height="2" fill="#fff"/><path d="M257,363h2v1h-2zM256,364h1v2h-1zM259,364h1v2h-1zM257,366h2v1h-2z" fill="#ff0000"/>
<rect x="265" y="364" width="2" height="2" fill="#fff"/><path d="M265,363h2v1h-2zM264,364h1v2h-1zM267,364h1v2h-1zM265,366h2v1h-2z" fill="#ff0000"/>
<rect x="273" y="364" width="2" height="2" fill="#fff"/><path d="M273,363h2v1h-2zM272,364h1v2h-1zM275,364h1v2h-1zM273,366h2v1h-2z" fill="#ff0000"/>
<rect x="281" y="364" width="2" height="2" fill="#fff"/><path d="M281,363h2v1h-2zM280,364h1v2h-1zM283,364h1v2h-1zM281,366h2v1h-2z" fill="#ff0000"/>
<rect x="289" y="364" width="2" height="2" fill="#fff"/><path d="M289,363h2v1h-2zM288,364h1v2h-1zM291,364h1v2h-1zM289,366h2v1h-2z" fill="#ff0000"/>
<rect x="297" y="364" width="2" height="2" fill="#fff"/><path d="M297,363h2v1h-2zM296,364h1v2h-1zM299,364h1v2h-1zM297,366h2v1h-2z" fill="#ff0000"/>
<rect x="305" y="364" width="2" height="2" fill="#fff"/><path d="M305,363h2v1h-2zM304,364h1v2h-1zM307,364h1v2h-1zM305,366h2v1h-2z" fill="#ff0000"/>
<rect x="313" y="364" width="2" height="2" fill="#fff"/><path d="M313,363h2v1h-2zM312,364h1v2h-1zM315,364h1v2h-1zM313,366h2v1h-2z" fill="#ff0000"/>
<rect x="321" y="362" width="2" height="2" fill="#fff"/><path d="M321,361h2v1h-2zM320,362h1v2h-1zM323,362h1v2h-1zM321,364h2v1h-2z" fill="#ff0000"/>
<rect x="329" y="170" width="2" height="2" fill="#fff"/><path d="M329,169h2v1h-2zM328,170h1v2h-1zM331,170h1v2h-1zM329,172h2v1h-2z" fill="#ff0000"/>
<rect x="337" y="104" width="2" height="2" fill="#fff"/><path d="M337,103h2v1h-2zM336,104h1v2h-1zM339,104h1v2h-1zM337,106h2v1h-2z" fill="#ff0000"/>
<rect x="345" y="105" width="2" height="2" fill="#fff"/><path d="M345,104h2v1h-2zM344,105h1v2h-1zM347,105h1v2h-1zM345,107h2v1h-2z" fill="#ff0000"/>
<rect x="353" y="105" width="2" height="2" fill="#fff"/><path d="M353,104h2v1h-2zM352,105h1v2h-1zM355,105h1v2h-1zM353,107h2v1h-2z" fill="#ff0000"/>
<rect x="361" y="105" width="2" height="2" fill="#fff"/><path d="M361,104h2v1h-2zM360,105h1v2h-1zM363,105h1v2h-1zM361,107h2v1h-2z" fill="#ff0000"/>
<rect x="369" y="105" width="2" height="2" fill="#fff"/><path d="M369,104h2v1h-2zM368,105h1v2h-1zM371,105h1v2h-1zM369,107h2v1h-2z" fill="#ff0000"/>
<rect x="377" y="105" width="2" height="2" fill="#fff"/><path d="M377,104h2v1h-2zM376,105h1v2h-1zM379,105h1v2h-1zM377,107h2v1h-2z" fill="#ff0000"/>
<rect x="385" y="105" width="2" height="2" fill="#fff"/><path d="M385,104h2v1h-2zM384,105h1v2h-1zM387,105h1v2h-1zM385,107h2v1h-2z" fill="#ff0000"/>
<rect x="393" y="105" width="2" height="2" fill="#fff"/><path d="M393,104h2v1h-2zM392,105h1v2h-1zM395,105h1v2h-1zM393,107h2v1h-2z" fill="#ff0000"/>
<rect x="401" y="105" width="2" height="2" fill="#fff"/><path d="M401,104h2v1h-2zM400,105h1v2h-1zM403,105h1v2h-1zM401,107h2v1h-2z" fill="#ff0000"/>
<rect x="409" y="105" width="2" height="2" fill="#fff"/><path d="M409,104h2v1h-2zM408,105h1v2h-1zM411,105h1v2h-1zM409,107h2v1h-2z" fill="#ff0000"/>
<rect x="417" y="105" width="2" height="2" fill="#fff"/><path d="M417,104h2v1h-2zM416,105h1v2h-1zM419,105h1v2h-1zM417,107h2v1h-2z" fill="#ff0000"/>
<rect x="425" y="105" width="2" height="2" fill="#fff"/><path d="M425,104h2v1h-2zM424,105h1v2h-1zM427,105h1v2h-1zM425,107h2v1h-2z" fill="#ff0000"/>
<rect x="433" y="105" width="2" height="2" fill="#fff"/><path d="M433,104h2v1h-2zM432,105h1v2h-1zM435,105h1v2h-1zM433,107h2v1h-2z" fill="#ff0000"/>
<rect x="441" y="105" width="2" height="2" fill="#fff"/><path d="M441,104h2v1h-2zM440,105h1v2h-1zM443,105h1v2h-1zM441,107h2v1h-2z" fill="#ff0000"/>
<rect x="449" y="105" width="2" height="2" fill="#fff"/><path d="M449,104h2v1h-2zM448,105h1v2h-1zM451,105h1v2h-1zM449,107h2v1h-2z" fill="#ff0000"/>
<rect x="457" y="105" width="2" height="2" fill="#fff"/><path d="M457,104h2v1h-2zM456,105h1v2h-1zM459,105h1v2h-1zM457,107h2v1h-2z" fill="#ff0000"/>
<rect x="465" y="105" width="2" height="2" fill="#fff"/><path d="M465,104h2v1h-2zM464,105h1v2h-1zM467,105h1v2h-1zM465,107h2v1h-2z" fill="#ff0000"/>
<rect x="473" y="105" width="2" height="2" fill="#fff"/><path d="M473,104h2v1h-2zM472,105h1v2h-1zM475,105h1v2h-1zM473,107h2v1h-2z" fill="#ff0000"/>
<rect x="481" y="105" width="2" height="2" fill="#fff"/><path d="M481,104h2v1h-2zM480,105h1v2h-1zM483,105h1v2h-1zM481,107h2v1h-2z" fill="#ff0000"/>
<rect x="489" y="105" width="2" height="2" fill="#fff"/><path d="M489,104h2v1h-2zM488,105h1v2h-1zM491,105h1v2h-1zM489,107h2v1h-2z" fill="#ff0000"/>
<rect x="497" y="105" width="2" height="2" fill="#fff"/><path d="M497,104h2v1h-2zM496,105h1v2h-1zM499,105h1v2h-1zM497,107h2v1h-2z" fill="#ff0000"/>
<rect x="505" y="105" width="2" height="2" fill="#fff"/><path d="M505,104h2v1h-2zM504,105h1v2h-1zM507,105h1v2h-1zM505,107h2v1h-2z" fill="#ff0000"/>
<rect x="513" y="105" width="2" height="2" fill="#fff"/><path d="M513,104h2v1h-2zM512,105h1v2h-1zM515,105h1v2h-1zM513,107h2v1h-2z" fill="#ff0000"/>
<rect x="521" y="105" width="2" height="2" fill="#fff"/><path d="M521,104h2v1h-2zM520,105h1v2h-1zM523,105h1v2h-1zM521,107h2v1h-2z" fill="#ff0000"/>
<rect x="529" y="105" width="2" height="2" fill="#fff"/><path d="M529,104h2v1h-2zM528,105h1v2h-1zM531,105h1v2h-1zM529,107h2v1h-2z" fill="#ff0000"/>
<rect x="537" y="105" width="2" height="2" fill="#fff"/><path d="M537,104h2v1h-2zM536,105h1v2h-1zM539,105h1v2h-1zM537,107h2v1h-2z" fill="#ff0000"/>
<rect x="545" y="105" width="2" height="2" fill="#fff"/><path d="M545,104h2v1h-2zM544,105h1v2h-1zM547,105h1v2h-1zM545,107h2v1h-2z" fill="#ff0000"/>
<rect x="553" y="105" width="2" height="2" fill="#fff"/><path d="M553,104h2v1h-2zM552,105h1v2h-1zM555,105h1v2h-1zM553,107h2v1h-2z" fill="#ff0000"/>
<rect x="561" y="105" width="2" height="2" fill="#fff"/><path d="M561,104h2v1h-2zM560,105h1v2h-1zM563,105h1v2h-1zM561,107h2v1h-2z" fill="#ff0000"/>
<rect x="569" y="105" width="2" height="2" fill="#fff"/><path d="M569,104h2v1h-2zM568,105h1v2h-1zM571,105h1v2h-1zM569,107h2v1h-2z" fill="#ff0000"/>
<rect x="577" y="105" width="2" height="2" fill="#fff"/><path d="M577,104h2v1h-2zM576,105h1v2h-1zM579,105h1v2h-1zM577,107h2v1h-2z" fill="#ff0000"/>
<rect x="585" y="105" width="2" height="2" fill="#fff"/><path d="M585,104h2v1h-2zM584,105h1v2h-1zM587,105h1v2h-1zM585,107h2v1h-2z" fill="#ff0000"/>
<rect x="593" y="105" width="2" height="2" fill="#fff"/><path d="M593,104h2v1h-2zM592,105h1v2h-1zM595,105h1v2h-1zM593,107h2v1h-2z" fill="#ff0000"/>
<rect x="601" y="105" width="2" height="2" fill="#fff"/><path d="M601,104h2v1h-2zM600,105h1v2h-1zM603,105h1v2h-1zM601,107h2v1h-2z" fill="#ff0000"/>
<rect x="609" y="105" width="2" height="2" fill="#fff"/><path d="M609,104h2v1h-2zM608,105h1v2h-1zM611,105h1v2h-1zM609,107h2v1h-2z" fill="#ff0000"/>
<rect x="617" y="105" width="2" height="2" fill="#fff"/><path d="M617,104h2v1h-2zM616,105h1v2h-1zM619,105h1v2h-1zM617,107h2v1h-2z" fill="#ff0000"/>
<rect x="625" y="105" width="2" height="2" fill="#fff"/><path d="M625,104h2v1h-2zM624,105h1v2h-1zM627,105h1v2h-1zM625,107h2v1h-2z" fill="#ff0000"/>
<rect x="633" y="105" width="2" height="2" fill="#fff"/><path d="M633,104h2v1h-2zM632,105h1v2h-1zM635,105h1v2h-1zM633,107h2v1h-2z" fill="#ff0000"/>
<rect x="641" y="105" width="2" height="2" fill="#fff"/><path d="M641,104h2v1h-2zM640,105h1v2h-1zM643,105h1v2h-1zM641,107h2v1h-2z" fill="#ff0000"/>
<rect x="649" y="105" width="2" height="2" fill="#fff"/><path d="M649,104h2v1h-2zM648,105h1v2h-1zM651,105h1v2h-1zM649,107h2v1h-2z" fill="#ff0000"/>
<rect x="657" y="105" width="2" height="2" fill="#fff"/><path d="M657,104h2v1h-2zM656,105h1v2h-1zM659,105h1v2h-1zM657,107h2v1h-2z" fill="#ff0000"/>
<rect x="665" y="105" width="2" height="2" fill="#fff"/><path d="M665,104h2v1h-2zM664,105h1v2h-1zM667,105h1v2h-1zM665,107h2v1h-2z" fill="#ff0000"/>
<rect x="673" y="105" width="2" height="2" fill="#fff"/><path d="M673,104h2v1h-2zM672,105h1v2h-1zM675,105h1v2h-1zM673,107h2v1h-2z" fill="#ff0000"/>
<rect x="681" y="105" width="2" height="2" fill="#fff"/><path d="M681,104h2v1h-2zM680,105h1v2h-1zM683,105h1v2h-1zM681,107h2v1h-2z" fill="#ff0000"/>
<rect x="689" y="105" width="2" height="2" fill="#fff"/><path d="M689,104h2v1h-2zM688,105h1v2h-1zM691,105h1v2h-1zM689,107h2v1h-2z" fill="#ff0000"/>
<rect x="697" y="105" width="2" height="2" fill="#fff"/><path d="M697,104h2v1h-2zM696,105h1v2h-1zM699,105h1v2h-1zM697,107h2v1h-2z" fill="#ff0000"/>
<rect x="705" y="105" width="2" height="2" fill="#fff"/><path d="M705,104h2v1h-2zM704,105h1v2h-1zM707,105h1v2h-1zM705,107h2v1h-2z" fill="#ff0000"/>
<rect x="713" y="105" width="2" height="2" fill="#fff"/><path d="M713,104h2v1h-2zM712,105h1v2h-1zM715,105h1v2h-1zM713,107h2v1h-2z" fill="#ff0000"/>
<rect x="721" y="105" width="2" height="2" fill="#fff"/><path d="M721,104h2v1h-2zM720,105h1v2h-1zM723,105h1v2h-1zM721,107h2v1h-2z" fill="#ff0000"/>
</g>
</svg></body></html>
